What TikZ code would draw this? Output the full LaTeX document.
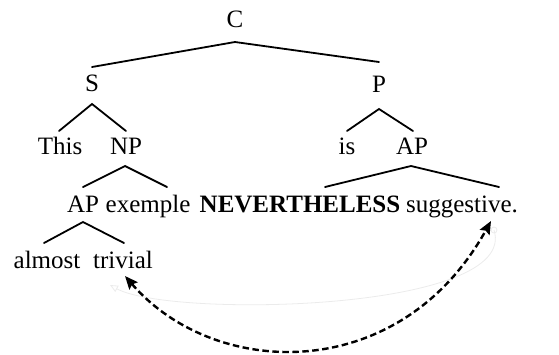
\documentclass[tikz,border=0pt]{standalone}
\usepackage{fontspec}
\setmainfont{Liberation Serif}
\usetikzlibrary{arrows.meta}
\begin{document}
\begin{tikzpicture}[x=1pt,y=-1pt,
  word/.style={anchor=base,inner sep=0pt,font=\fontsize{25}{30}\selectfont},
  branch/.style={line width=1.8pt,line cap=round},
  link/.style={line width=2.4pt,dash pattern=on 6.5pt off 3.5pt,{Stealth[length=13pt,width=11pt,inset=2pt]}-{Stealth[length=13pt,width=11pt,inset=2pt]}},
  ghost/.style={line width=0.8pt,black!8}]
\useasboundingbox (0,0) rectangle (559,354);
% words
\node[word] (C) at (235,27) {C};
\node[word] (S) at (92,91) {S};
\node[word] (P) at (379,92) {P};
\node[word] (This) at (60,154) {This};
\node[word] (NP) at (126,154) {NP};
\node[word] (is) at (347,154) {is};
\node[word] (AP2) at (412,154) {AP};
\node[word] (AP1) at (83,212) {AP};
\node[word] (ex) at (148,212) {exemple};
\node[word] (nev) at (300,212) {\bfseries NEVERTHELESS};
\node[word] (sug) at (462,212) {suggestive.};
\node[word] (almost) at (47,268) {almost};
\node[word] (trivial) at (123,268) {trivial};
% apex and leaf coordinates
\coordinate (cA) at (235,42);
\coordinate (cL) at (92,67);
\coordinate (cR) at (379,62);
\coordinate (sA) at (92,104);
\coordinate (sL) at (59,131);
\coordinate (sR) at (126,131);
\coordinate (pA) at (379,109);
\coordinate (pL) at (347,131);
\coordinate (pR) at (413,131);
\coordinate (nA) at (125,166);
\coordinate (nL) at (83,187);
\coordinate (nR) at (167,187);
\coordinate (aA) at (411,166);
\coordinate (aL) at (325,187);
\coordinate (aR) at (499,187);
\coordinate (bA) at (83,222);
\coordinate (bL) at (44,243);
\coordinate (bR) at (124,243);
% branches
\draw[branch] (cL) -- (cA) -- (cR);
\draw[branch] (sL) -- (sA) -- (sR);
\draw[branch] (pL) -- (pA) -- (pR);
\draw[branch] (nL) -- (nA) -- (nR);
\draw[branch] (aL) -- (aA) -- (aR);
\draw[branch] (bL) -- (bA) -- (bR);
% faint ghost curve
\coordinate (g1) at (110,285);
\coordinate (g2) at (494,230);
\draw[ghost,{Triangle[open,length=8pt,width=7pt]}-] (g1) .. controls (170,318) and (520,312) .. (g2);
\draw[ghost] (g2) circle (3);
% dashed arrow
\coordinate (t1) at (125,276);
\coordinate (t2) at (491,221);
\draw[link] (t1) .. controls (215,380) and (400,385) .. (t2);
\end{tikzpicture}
\end{document}
